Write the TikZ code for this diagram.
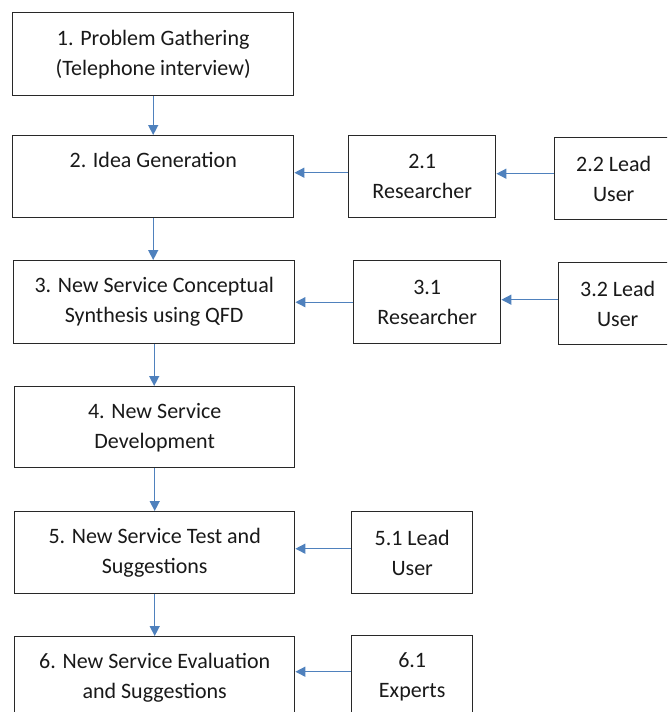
\documentclass[tikz,border=0pt]{standalone}
\usepackage{fontspec}
\setmainfont{Carlito}
\usetikzlibrary{arrows.meta}
\definecolor{arrowblue}{RGB}{79,129,189}
\definecolor{boxline}{RGB}{40,40,40}
\begin{document}
\begin{tikzpicture}[x=1pt,y=-1pt,
  box/.style={draw=boxline,line width=1.4pt,inner sep=0pt,anchor=north west,align=center,
    font=\fontsize{22}{30}\selectfont,text=black!90},
  arr/.style={draw=arrowblue,line width=1.4pt,-{Triangle[length=10pt,width=10pt]}}]
\useasboundingbox (0,0) rectangle (667,712);
\clip (0,0) rectangle (667,712);
\fill[white] (0,0) rectangle (667,712);
% main column
\node[box,minimum width=281pt,minimum height=83pt] (b1) at (12,12) {1. Problem Gathering\\(Telephone interview)};
\node[box,minimum width=281pt,minimum height=82pt] (b2) at (12,135) {2. Idea Generation\\\vphantom{Ig}};
\node[box,minimum width=281pt,minimum height=83pt] (b3) at (13,260) {3. New Service Conceptual\\Synthesis using QFD};
\node[box,minimum width=280pt,minimum height=81pt] (b4) at (14,386) {4. New Service\\Development};
\node[box,minimum width=280pt,minimum height=82pt] (b5) at (14,511) {5. New Service Test and\\Suggestions};
\node[box,minimum width=280pt,minimum height=82pt] (b6) at (14,636) {6. New Service Evaluation\\and Suggestions};
% side boxes
\node[box,minimum width=147pt,minimum height=82pt] (b21) at (348,135) {2.1\\Researcher};
\node[box,minimum width=118pt,minimum height=82pt] (b22) at (554,137) {2.2 Lead\\User};
\node[box,minimum width=147pt,minimum height=83pt] (b31) at (353,260) {3.1\\Researcher};
\node[box,minimum width=118pt,minimum height=82pt] (b32) at (558,262) {3.2 Lead\\User};
\node[box,minimum width=121pt,minimum height=82pt] (b51) at (351,511) {5.1 Lead\\User};
\node[box,minimum width=121pt,minimum height=82pt] (b61) at (351,635) {6.1\\Experts};
% vertical arrows
\draw[arr] (b1.south) -- (b1.south |- b2.north);
\draw[arr] (b2.south) -- (b2.south |- b3.north);
\draw[arr] (b3.south) -- (b3.south |- b4.north);
\draw[arr] (b4.south) -- (b4.south |- b5.north);
\draw[arr] (b5.south) -- (b5.south |- b6.north);
% horizontal arrows
\draw[arr] ([yshift=4pt]b21.west) -- ([yshift=4pt]b21.west -| b2.east);
\draw[arr] ([yshift=5pt]b22.west) -- ([yshift=5pt]b22.west -| b21.east);
\draw[arr] (b31.west) -- (b31.west -| b3.east);
\draw[arr] ([yshift=4pt]b32.west) -- ([yshift=4pt]b32.west -| b31.east);
\draw[arr] ([yshift=4pt]b51.west) -- ([yshift=4pt]b51.west -| b5.east);
\draw[arr] ([yshift=5pt]b61.west) -- ([yshift=5pt]b61.west -| b6.east);
\end{tikzpicture}
\end{document}
